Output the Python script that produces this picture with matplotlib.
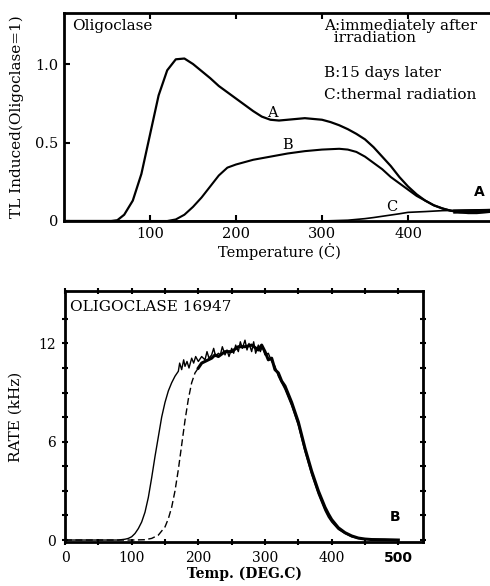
import numpy as np
import matplotlib.pyplot as plt

# ---- top panel: TL induced, normalised to oligoclase = 1 ----
temp_a = [0, 40, 55, 62, 70, 80, 90, 100, 110, 120, 130, 140, 150, 160, 170, 180, 190,
          200, 210, 220, 230, 240, 250, 260, 270, 280, 290, 300, 310, 320, 330, 340,
          350, 360, 370, 380, 390, 400, 410, 420, 430, 440, 450, 460, 470, 480, 490, 500]
tl_a = [0, 0, 0, 0.005, 0.04, 0.13, 0.3, 0.55, 0.8, 0.96, 1.03, 1.035, 1.0, 0.955, 0.91,
        0.86, 0.82, 0.78, 0.74, 0.70, 0.665, 0.645, 0.64, 0.645, 0.65, 0.655, 0.65, 0.645,
        0.63, 0.61, 0.585, 0.555, 0.52, 0.47, 0.41, 0.35, 0.28, 0.22, 0.17, 0.13, 0.10,
        0.08, 0.065, 0.06, 0.055, 0.06, 0.065, 0.07]

temp_b = [0, 120, 130, 140, 150, 160, 170, 180, 190, 200, 220, 240, 260, 280, 300, 320,
          330, 340, 350, 360, 370, 380, 390, 400, 410, 420, 430, 440, 450, 460, 470, 480,
          490, 500]
tl_b = [0, 0, 0.01, 0.04, 0.09, 0.15, 0.22, 0.29, 0.34, 0.36, 0.39, 0.41, 0.43, 0.445,
        0.455, 0.46, 0.455, 0.44, 0.41, 0.37, 0.33, 0.28, 0.24, 0.2, 0.16, 0.13, 0.10,
        0.08, 0.065, 0.055, 0.05, 0.05, 0.055, 0.06]

temp_c = [0, 300, 330, 350, 360, 370, 380, 390, 400, 420, 440, 460, 480, 500]
tl_c = [0, 0, 0.005, 0.015, 0.022, 0.03, 0.038, 0.046, 0.055, 0.06, 0.066, 0.068, 0.07, 0.072]

# ---- bottom panel: OLIGOCLASE 16947 rate ----
rate_t1 = [0, 50, 80, 90, 95, 100, 105, 110, 115, 120, 125, 130, 135, 140, 145, 150, 155,
           160, 165, 170, 172, 175, 178, 180, 183, 186, 190, 193, 196, 200, 205, 210, 213,
           216, 220, 223, 226, 230, 233, 236, 240, 243, 246, 250, 253, 256, 260, 263, 266,
           270, 273, 276, 280, 283, 286, 290, 293, 296, 300, 305, 310, 315, 320, 325, 330,
           335, 340, 345, 350, 355, 360, 365, 370, 375, 380, 385, 390, 395, 400, 410, 420,
           430, 440, 450, 460, 470, 480, 490, 500]
rate_1 = [0, 0, 0, 0.05, 0.1, 0.2, 0.4, 0.7, 1.1, 1.7, 2.6, 3.8, 5.1, 6.3, 7.5, 8.4, 9.1,
          9.6, 10.0, 10.3, 10.8, 10.4, 11.0, 10.6, 10.9, 10.5, 11.1, 10.8, 11.2, 10.9, 11.2,
          11.0, 11.5, 11.1, 11.3, 11.7, 11.2, 11.4, 11.3, 11.8, 11.3, 11.6, 11.2, 11.7, 11.4,
          11.9, 11.5, 12.1, 11.7, 12.2, 11.6, 12.0, 11.5, 12.1, 11.4, 11.9, 11.5, 11.8, 11.3,
          11.4, 10.9, 10.6, 10.0, 9.6, 9.2, 8.7, 8.2, 7.6, 7.0, 6.2, 5.4, 4.7, 4.0, 3.4, 2.8,
          2.3, 1.8, 1.4, 1.1, 0.65, 0.4, 0.2, 0.1, 0.05, 0.03, 0.02, 0.02, 0.01, 0]

rate_t2_dash = [0, 100, 120, 130, 140, 150, 155, 160, 165, 170, 175, 180, 185, 190, 195, 200]
rate_2_dash = [0, 0, 0.02, 0.1, 0.3, 0.8, 1.3, 2.0, 3.0, 4.3, 5.8, 7.3, 8.6, 9.6, 10.2, 10.5]

rate_t2 = [200, 205, 210, 215, 220, 225, 230, 240, 250, 260, 270, 280, 290, 295, 300, 305,
           310, 315, 320, 325, 330, 335, 340, 345, 350, 355, 360, 365, 370, 375, 380, 385,
           390, 395, 400, 410, 420, 430, 440, 450, 460, 480, 500]
rate_2 = [10.5, 10.8, 10.9, 11.0, 11.1, 11.3, 11.2, 11.5, 11.5, 11.8, 11.8, 11.9, 11.6,
          11.9, 11.5, 11.0, 11.1, 10.4, 10.2, 9.7, 9.4, 8.9, 8.4, 7.8, 7.2, 6.4, 5.6, 4.9,
          4.2, 3.6, 3.0, 2.5, 2.0, 1.6, 1.25, 0.75, 0.45, 0.25, 0.12, 0.06, 0.03, 0.02, 0.0]

plt.rcParams['font.family'] = ['DejaVu Serif']

fig = plt.figure(figsize=(4.9, 5.86), dpi=100)

# ----- top -----
ax1 = fig.add_axes([64 / 490, 365 / 586, 430 / 490, 208 / 586])
ax1.plot(temp_a, tl_a, color='black', lw=1.6)
ax1.plot(temp_b, tl_b, color='black', lw=1.5)
ax1.plot(temp_c, tl_c, color='black', lw=1.2)
ax1.plot([455, 500], [0.06, 0.065], color='black', lw=3)
ax1.set_xlim(0, 500)
ax1.set_ylim(0, 1.325)
ax1.set_xticks([100, 200, 300, 400])
ax1.set_yticks([0, 0.5, 1.0])
ax1.set_yticklabels(['0', '0.5', '1.0'])
ax1.tick_params(direction='in', length=4, width=1.5, labelsize=10.5, top=True, pad=4)
for s in ['left', 'bottom', 'top']:
    ax1.spines[s].set_linewidth(2)
ax1.spines['right'].set_visible(False)
ax1.set_ylabel('TL Induced(Oligoclase=1)', fontsize=11, labelpad=8)
ax1.set_xlabel('Temperature (Ċ)', fontsize=10.5, labelpad=2)

ax1.text(10, 1.24, 'Oligoclase', fontsize=11, va='center')
ax1.text(302, 1.205, 'A:immediately after\n  irradiation', fontsize=11, va='center',
         linespacing=0.8)
ax1.text(302, 0.945, 'B:15 days later', fontsize=11, va='center')
ax1.text(302, 0.80, 'C:thermal radiation', fontsize=11, va='center')
ax1.text(242, 0.69, 'A', fontsize=10.5, ha='center', va='center')
ax1.text(260, 0.485, 'B', fontsize=10.5, ha='center', va='center')
ax1.text(381, 0.09, 'C', fontsize=10.5, ha='center', va='center')
ax1.text(483, 0.185, 'A', fontsize=10, ha='center', va='center', fontweight='bold',
         family='DejaVu Sans')

# ----- bottom -----
ax2 = fig.add_axes([65 / 490, 44 / 586, 358 / 490, 251 / 586])
ax2.plot(rate_t1, rate_1, color='black', lw=1.0)
ax2.plot(rate_t2_dash, rate_2_dash, color='black', lw=1.0, ls=(0, (5, 2.5)))
ax2.plot(rate_t2, rate_2, color='black', lw=2.2)
ax2.set_xlim(0, 537)
ax2.set_ylim(-0.12, 15.2)
ax2.set_xticks([0, 100, 200, 300, 400, 500])
ax2.set_xticks(np.arange(50, 537, 100), minor=True)
ax2.set_yticks([0, 6, 12])
ax2.set_yticks([1.5, 3, 4.5, 7.5, 9, 10.5, 13.5], minor=True)
ax2.tick_params(which='both', direction='inout', length=5, width=1.5, labelsize=10,
                top=True, right=True, pad=4)
for s in ax2.spines.values():
    s.set_linewidth(2)
for lab in ax2.get_xticklabels():
    if lab.get_text() == '500':
        lab.set_fontweight('bold')
        lab.set_family('DejaVu Sans')
ax2.set_ylabel('RATE (kHz)', fontsize=11, labelpad=11)
ax2.set_xlabel('Temp. (DEG.C)', fontsize=10, fontweight='bold', labelpad=1)
ax2.text(8, 14.2, 'OLIGOCLASE 16947', fontsize=11, va='center')
ax2.text(495, 1.4, 'B', fontsize=10, ha='center', va='center', fontweight='bold',
         family='DejaVu Sans')

fig.savefig('out.png', dpi=100)
